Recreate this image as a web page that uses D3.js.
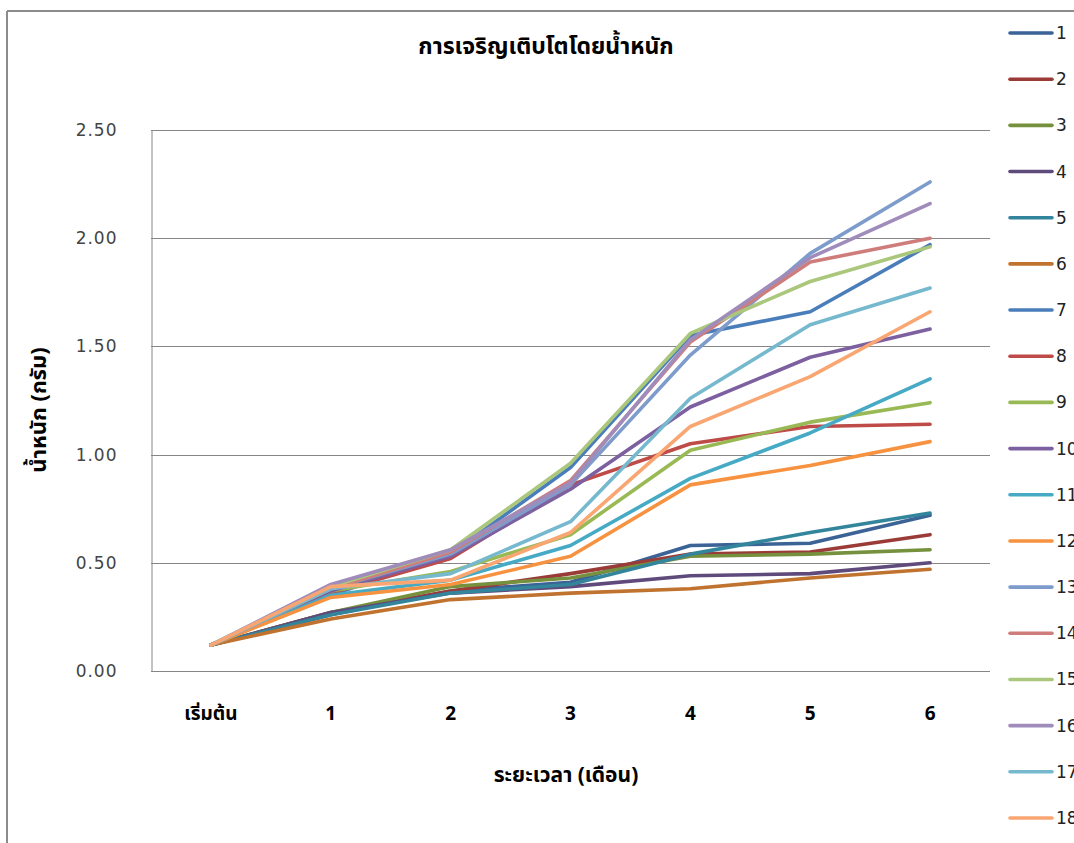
<!DOCTYPE html>
<html>
<head>
<meta charset="utf-8">
<script src="https://cdn.jsdelivr.net/npm/d3@7"></script>
<style>
  body { margin: 0; background: #fff; }
  svg { display: block; }
  .thai { font-family: "Noto Sans Thai", "Noto Sans", "DejaVu Sans", sans-serif; }
  .num { font-family: "DejaVu Sans", Verdana, sans-serif; }
</style>
</head>
<body>
<svg id="chart" width="1074" height="843"></svg>
<script>
// categories on the x axis
const months = ["เริ่มต้น", "1", "2", "3", "4", "5", "6"];
const seriesNames = ["1","2","3","4","5","6","7","8","9","10","11","12","13","14","15","16","17","18"];
const yTicks = [0, 0.5, 1.0, 1.5, 2.0, 2.5];

// weight (g) per series
const s1  = [0.12, 0.26, 0.37, 0.41, 0.58, 0.59, 0.72];
const s2  = [0.12, 0.27, 0.37, 0.45, 0.54, 0.55, 0.63];
const s3  = [0.12, 0.27, 0.39, 0.43, 0.53, 0.54, 0.56];
const s4  = [0.12, 0.27, 0.36, 0.39, 0.44, 0.45, 0.50];
const s5  = [0.12, 0.26, 0.36, 0.40, 0.54, 0.64, 0.73];
const s6  = [0.12, 0.24, 0.33, 0.36, 0.38, 0.43, 0.47];
const s7  = [0.12, 0.35, 0.54, 0.94, 1.55, 1.66, 1.97];
const s8  = [0.12, 0.36, 0.52, 0.86, 1.05, 1.13, 1.14];
const s9  = [0.12, 0.37, 0.46, 0.63, 1.02, 1.15, 1.24];
const s10 = [0.12, 0.37, 0.53, 0.84, 1.22, 1.45, 1.58];
const s11 = [0.12, 0.35, 0.42, 0.58, 0.89, 1.10, 1.35];
const s12 = [0.12, 0.34, 0.40, 0.53, 0.86, 0.95, 1.06];
const s13 = [0.12, 0.38, 0.54, 0.86, 1.46, 1.93, 2.26];
const s14 = [0.12, 0.38, 0.55, 0.88, 1.52, 1.89, 2.00];
const s15 = [0.12, 0.39, 0.56, 0.96, 1.56, 1.80, 1.96];
const s16 = [0.12, 0.40, 0.56, 0.87, 1.53, 1.91, 2.16];
const s17 = [0.12, 0.38, 0.45, 0.69, 1.26, 1.60, 1.77];
const s18 = [0.12, 0.39, 0.42, 0.64, 1.13, 1.36, 1.66];
const allSeries = [s1, s2, s3, s4, s5, s6, s7, s8, s9, s10, s11, s12, s13, s14, s15, s16, s17, s18];

const colors = [
  "#3b6396", "#9a3b38", "#76913e", "#5f4a7c", "#33859b", "#c0722f",
  "#4a7ebb", "#be4b48", "#98b954", "#7d60a0", "#46aac5", "#f69240",
  "#7e9ccb", "#cf7d7b", "#aac77c", "#a08cbb", "#76b9ce", "#f9a672"
];

const svg = d3.select("#chart");

// outer frame (top and left edges only visible)
svg.append("line").attr("x1", 7).attr("x2", 1074).attr("y1", 11).attr("y2", 11)
  .attr("stroke", "#8c8c8c").attr("stroke-width", 2);
svg.append("line").attr("x1", 7).attr("x2", 7).attr("y1", 11).attr("y2", 843)
  .attr("stroke", "#8c8c8c").attr("stroke-width", 2);

const plot = { left: 151, right: 990, top: 130, bottom: 671 };

const x = d3.scaleBand()
  .domain(months)
  .range([plot.left, plot.right]);

const y = d3.scaleLinear()
  .domain([0, 2.5])
  .range([plot.bottom, plot.top]);

// gridlines
svg.append("g")
  .selectAll("line")
  .data(yTicks)
  .join("line")
  .attr("x1", plot.left)
  .attr("x2", plot.right)
  .attr("y1", d => Math.round(y(d)) + 0.5)
  .attr("y2", d => Math.round(y(d)) + 0.5)
  .attr("stroke", "#868686")
  .attr("stroke-width", 1);

// y axis
const yAxis = svg.append("g")
  .attr("transform", `translate(${plot.left + 0.5},0)`)
  .call(d3.axisLeft(y).tickValues(yTicks).tickFormat(d3.format(".2f")).tickSize(0).tickPadding(34));
yAxis.select(".domain").attr("stroke", "#868686");
yAxis.selectAll("text")
  .attr("class", "num")
  .attr("font-size", 17)
  .attr("letter-spacing", 1)
  .attr("fill", "#444");

// x axis labels
const xAxis = svg.append("g")
  .attr("transform", `translate(0,${plot.bottom})`)
  .call(d3.axisBottom(x).tickSize(0).tickPadding(36));
xAxis.select(".domain").remove();
xAxis.selectAll("text")
  .attr("class", "thai")
  .attr("font-size", 19)
  .attr("font-weight", "bold")
  .attr("fill", "#000");

// lines
const line = d3.line()
  .x((d, i) => x(months[i]) + x.bandwidth() / 2)
  .y(d => y(d));

svg.append("g")
  .selectAll("path")
  .data(allSeries)
  .join("path")
  .attr("d", line)
  .attr("fill", "none")
  .attr("stroke", (d, i) => colors[i])
  .attr("stroke-width", 3.6)
  .attr("stroke-linejoin", "round")
  .attr("stroke-linecap", "round");

// title
svg.append("text")
  .attr("class", "thai")
  .attr("x", 546)
  .attr("y", 54)
  .attr("text-anchor", "middle")
  .attr("font-size", 23)
  .attr("font-weight", "bold")
  .text("การเจริญเติบโตโดยน้ำหนัก");

// axis titles
svg.append("text")
  .attr("class", "thai")
  .attr("x", 566)
  .attr("y", 782)
  .attr("text-anchor", "middle")
  .attr("font-size", 21)
  .attr("font-weight", "bold")
  .text("ระยะเวลา (เดือน)");

svg.append("text")
  .attr("class", "thai")
  .attr("transform", "translate(46,410) rotate(-90)")
  .attr("text-anchor", "middle")
  .attr("font-size", 22)
  .attr("font-weight", "bold")
  .text("น้ำหนัก (กรัม)");

// legend (labels run off the right edge, as in the original)
const legendY = d3.scalePoint()
  .domain(seriesNames)
  .range([33, 818]);

const legend = svg.append("g")
  .selectAll("g")
  .data(seriesNames)
  .join("g")
  .attr("transform", d => `translate(1010,${legendY(d)})`);

legend.append("line")
  .attr("x1", 0).attr("x2", 42)
  .attr("stroke", (d, i) => colors[i])
  .attr("stroke-width", 3.6)
  .attr("stroke-linecap", "round");

legend.append("text")
  .attr("class", "num")
  .attr("x", 46)
  .attr("y", 6)
  .attr("font-size", 17)
  .attr("fill", "#222")
  .text(d => d);
</script>
</body>
</html>
